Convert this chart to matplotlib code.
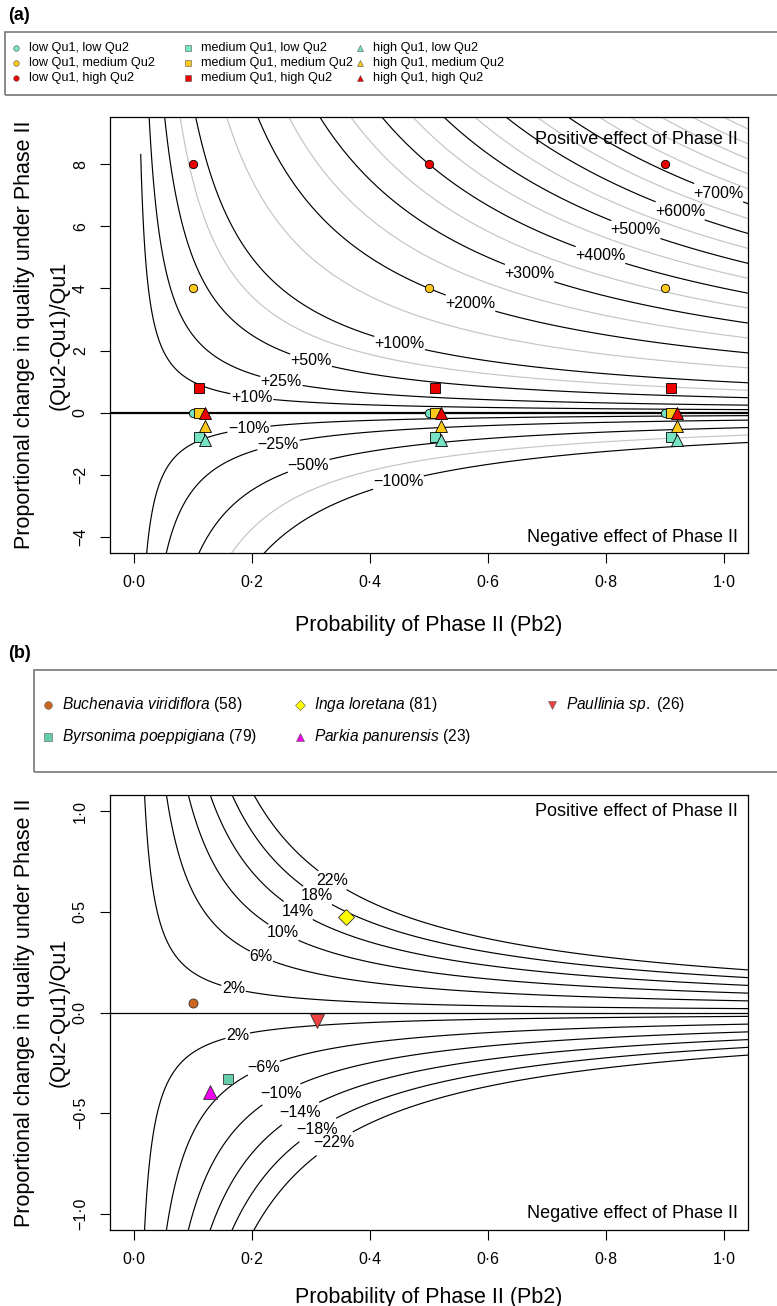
import numpy as np
import matplotlib.pyplot as plt
from matplotlib.patches import Rectangle
from matplotlib.lines import Line2D

plt.rcParams['font.family'] = ['Liberation Sans', 'DejaVu Sans']
plt.rcParams['mathtext.fontset'] = 'custom'
plt.rcParams['mathtext.rm'] = 'Liberation Sans'
plt.rcParams['mathtext.it'] = 'Liberation Sans:italic'
plt.rcParams['contour.negative_linestyle'] = 'solid'

# ---------------- data, panel (a) ----------------
pb2_a = [0.1, 0.5, 0.9]
qu1_levels = ['low', 'medium', 'high']
qu2_levels = ['low', 'medium', 'high']
# proportional change (Qu2-Qu1)/Qu1 for each Qu1 level, ordered low/medium/high Qu2
change_low_qu1 = [0.0, 4.0, 8.0]
change_medium_qu1 = [-0.8, 0.0, 0.8]
change_high_qu1 = [-0.89, -0.44, 0.0]

levels_a = [-1, -0.5, -0.25, -0.1, 0.1, 0.25, 0.5, 1, 2, 3, 4, 5, 6, 7]
labels_a = ['−100%', '−50%', '−25%', '−10%', '+10%', '+25%', '+50%',
            '+100%', '+200%', '+300%', '+400%', '+500%', '+600%', '+700%']
grey_levels_a = [-0.75, 0.75, 1.5, 2.5, 3.5, 4.5, 5.5, 6.5, 7.5, 8, 8.5, 9, 9.5]

# ---------------- data, panel (b) ----------------
species = ['Buchenavia viridiflora', 'Byrsonima poeppigiana', 'Inga loretana',
           'Parkia panurensis', 'Paullinia sp.']
n_obs = [58, 79, 81, 23, 26]
pb2_b = [0.10, 0.16, 0.36, 0.13, 0.31]
change_b = [0.045, -0.33, 0.476, -0.395, -0.04]

levels_b = [-0.22, -0.18, -0.14, -0.10, -0.06, -0.02, 0.02, 0.06, 0.10, 0.14, 0.18, 0.22]
labels_b = ['−22%', '−18%', '−14%', '−10%', '−6%', '2%', '2%', '6%', '10%', '14%', '18%', '22%']

x_ticks = [0.0, 0.2, 0.4, 0.6, 0.8, 1.0]
x_tick_labels = ['0·0', '0·2', '0·4', '0·6', '0·8', '1·0']
y_ticks_a = [-4, -2, 0, 2, 4, 6, 8]
y_tick_labels_a = ['−4', '−2', '0', '2', '4', '6', '8']
y_ticks_b = [-1.0, -0.5, 0.0, 0.5, 1.0]
y_tick_labels_b = ['−1·0', '−0·5', '0·0', '0·5', '1·0']

# styles
qu2_colors = ['#76E4C4', '#FFC91A', '#EE0000']
qu1_markers = ['o', 's', '^']
qu1_ms = [6, 7, 8.8]
dodge = [0.0, 0.01, 0.02]
sp_colors = ['#CD661D', '#66CDAA', '#FFFF00', '#EE00EE', '#EE4040']
sp_markers = ['o', 's', 'D', '^', 'v']
sp_ms = [6.5, 7, 8, 10, 9.5]

W, H = 777, 1306
fig = plt.figure(figsize=(W / 100, H / 100), dpi=100)


def px_axes(left, top, right, bottom):
    return fig.add_axes([left / W, 1 - bottom / H, (right - left) / W, (bottom - top) / H])


def setup_axes(ax, ylim, yticks, yticklabels, xlab_off, ylab_x):
    ax.set_xlim(-0.04, 1.04)
    ax.set_ylim(*ylim)
    ax.set_xticks(x_ticks)
    ax.set_xticklabels(x_tick_labels)
    ax.set_yticks(yticks)
    ax.set_yticklabels(yticklabels, rotation=90, va='center')
    ax.tick_params(direction='out', length=7, width=0.8, labelsize=11.5, pad=9)
    for s in ax.spines.values():
        s.set_linewidth(0.9)
    ax.set_xlabel('Probability of Phase II (Pb2)', fontsize=15.5)
    ax.xaxis.label.set_va('center')
    ax.xaxis.set_label_coords(0.5, xlab_off)
    ax.set_ylabel('Proportional change in quality under Phase II\n(Qu2-Qu1)/Qu1',
                  fontsize=15.5, linespacing=1.85)
    ax.yaxis.label.set_va('center')
    ax.yaxis.set_label_coords(ylab_x, 0.5)


def draw_contours(ax, ylim, levels, labels, positions, grey=None):
    gx = np.linspace(0.012, 1.06, 600)
    gy = np.linspace(ylim[0] - 0.2, ylim[1] + 0.2, 600)
    X, Y = np.meshgrid(gx, gy)
    E = X * Y
    if grey:
        ax.contour(X, Y, E, levels=grey, colors='#C4C4C4', linewidths=0.85)
    cs = ax.contour(X, Y, E, levels=levels, colors='black', linewidths=0.85)
    texts = ax.clabel(cs, fmt=dict(zip(cs.levels, labels)), manual=positions,
                      inline=True, inline_spacing=1, fontsize=11.5)
    for t in texts:
        t.set_rotation(0)


# ---------------- panel (a) ----------------
ax_a = px_axes(110, 117, 748, 553)
ylim_a = (-4.52, 9.52)
setup_axes(ax_a, ylim_a, y_ticks_a, y_tick_labels_a, -72 / 436, -68.5 / 638)
pos_a = [(0.448, -2.23), (0.296, -1.69), (0.245, -1.02), (0.195, -0.51),
         (0.20, 0.5), (0.25, 1.0), (0.30, 1.67), (0.45, 2.22), (0.57, 3.51),
         (0.67, 4.48), (0.79, 5.06), (0.85, 5.88), (0.925, 6.49), (0.99, 7.07)]
draw_contours(ax_a, ylim_a, levels_a, labels_a, pos_a, grey=grey_levels_a)
ax_a.axhline(0, color='black', lw=1.6, zorder=3)

changes_a = [change_low_qu1, change_medium_qu1, change_high_qu1]
for i, q1 in enumerate(qu1_levels):
    for j, q2 in enumerate(qu2_levels):
        xs = [p + dodge[i] for p in pb2_a]
        ax_a.plot(xs, [changes_a[i][j]] * len(xs), ls='none', marker=qu1_markers[i],
                  ms=qu1_ms[i], mfc=qu2_colors[j], mec='black', mew=0.6, zorder=5 + i)

ax_a.text(0.984, (553 - 140) / 436, 'Positive effect of Phase II', transform=ax_a.transAxes,
          ha='right', va='center', fontsize=13)
ax_a.text(0.984, (553 - 537) / 436, 'Negative effect of Phase II', transform=ax_a.transAxes,
          ha='right', va='center', fontsize=13)

# ---------------- panel (b) ----------------
ax_b = px_axes(110, 795, 748, 1230)
ylim_b = (-1.08, 1.08)
setup_axes(ax_b, ylim_b, y_ticks_b, y_tick_labels_b, -67 / 435, -68.5 / 638)
pos_b = [(0.34, -0.65), (0.311, -0.58), (0.282, -0.50), (0.249, -0.40),
         (0.22, -0.273), (0.176, -0.114), (0.169, 0.118), (0.216, 0.278),
         (0.253, 0.395), (0.278, 0.504), (0.311, 0.58), (0.336, 0.655)]
draw_contours(ax_b, ylim_b, levels_b, labels_b, pos_b)
ax_b.axhline(0, color='black', lw=0.9, zorder=3)

for k in range(len(species)):
    ax_b.plot(pb2_b[k], change_b[k], ls='none', marker=sp_markers[k], ms=sp_ms[k],
              mfc=sp_colors[k], mec='#333333', mew=0.6, zorder=5)

ax_b.text(0.984, (1230 - 811) / 435, 'Positive effect of Phase II', transform=ax_b.transAxes,
          ha='right', va='center', fontsize=13)
ax_b.text(0.984, (1230 - 1213) / 435, 'Negative effect of Phase II', transform=ax_b.transAxes,
          ha='right', va='center', fontsize=13)

# ---------------- panel letters and legends ----------------
fig.text(8 / W, 1 - 15 / H, '(a)', fontsize=13, weight='bold', va='center')
fig.text(8 / W, 1 - 653 / H, '(b)', fontsize=13, weight='bold', va='center')


def legend_entry(xm, xt, y, marker, color, text, ms, fs):
    fig.add_artist(Line2D([xm / W], [1 - y / H], marker=marker, ms=ms, mfc=color,
                          mec='#555555', mew=0.4, ls='none', transform=fig.transFigure))
    fig.text(xt / W, 1 - y / H, text, fontsize=fs, va='center', ha='left')


fig.add_artist(Rectangle((5 / W, 1 - 95 / H), 800 / W, 63 / H, transform=fig.transFigure,
                         fill=False, ec='#777777', lw=1.2))
leg_ms_a = [4, 4, 5]
for i, q1 in enumerate(qu1_levels):
    for j, q2 in enumerate(qu2_levels):
        xm = 16 + 172 * i
        legend_entry(xm, xm + 13, 48 + 15 * j, qu1_markers[i], qu2_colors[j],
                     f'{q1} Qu1, {q2} Qu2', leg_ms_a[i], 9.1)

fig.add_artist(Rectangle((34 / W, 1 - 772 / H), 800 / W, 102 / H, transform=fig.transFigure,
                         fill=False, ec='#777777', lw=1.2))
for k, name in enumerate(species):
    col, row = k // 2, k % 2
    xm = 48 + 252 * col
    label = r'$\mathit{' + name.replace(' ', r'\ ') + '}$' + f' ({n_obs[k]})'
    legend_entry(xm, xm + 14, 705 + 32 * row, sp_markers[k], sp_colors[k], label, 5.5, 11.2)

fig.savefig('out.png', dpi=100)
